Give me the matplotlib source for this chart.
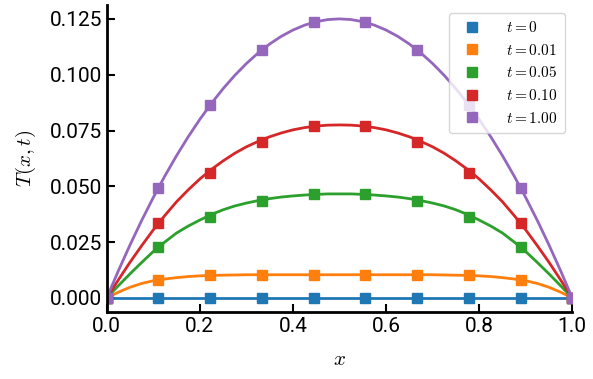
import numpy as np
import matplotlib.pyplot as plt

plt.rcParams['mathtext.fontset'] = 'cm'
plt.rcParams['font.family'] = ['Roboto', 'DejaVu Sans']

# times shown in the legend
labels = [r'$t=0$', r'$t=0.01$', r'$t=0.05$', r'$t=0.10$', r'$t=1.00$']
colors = ['#1f77b4', '#ff7f0e', '#2ca02c', '#d62728', '#9467bd']

# marker positions and values (x = k/9)
x_pts = [0, 1/9, 2/9, 3/9, 4/9, 5/9, 6/9, 7/9, 8/9, 1]
T0_pts = [0, 0, 0, 0, 0, 0, 0, 0, 0, 0]
T1_pts = [0, 0.0081, 0.0101, 0.0104, 0.0104, 0.0104, 0.0104, 0.0101, 0.0081, 0]
T2_pts = [0, 0.0229, 0.0362, 0.0435, 0.0464, 0.0464, 0.0435, 0.0362, 0.0229, 0]
T3_pts = [0, 0.0334, 0.0560, 0.0700, 0.0768, 0.0768, 0.0700, 0.0560, 0.0334, 0]
T4_pts = [0, 0.0494, 0.0864, 0.1111, 0.1235, 0.1235, 0.1111, 0.0864, 0.0494, 0]

x_line = [0, 0.025, 0.05, 0.075, 0.1, 0.125, 0.15, 0.175, 0.2, 0.225,
          0.25, 0.275, 0.3, 0.325, 0.35, 0.375, 0.4, 0.425, 0.45, 0.475,
          0.5, 0.525, 0.55, 0.575, 0.6, 0.625, 0.65, 0.675, 0.7, 0.725,
          0.75, 0.775, 0.8, 0.825, 0.85, 0.875, 0.9, 0.925, 0.95, 0.975, 1]
T0_line = [0] * 41
T1_line = [0, 0.0026, 0.0048, 0.0065, 0.0077, 0.0085, 0.0091, 0.0096, 0.0099, 0.0101,
           0.0102, 0.0103, 0.0104, 0.0104, 0.0104, 0.0104, 0.0104, 0.0104, 0.0104, 0.0104,
           0.0104, 0.0104, 0.0104, 0.0104, 0.0104, 0.0104, 0.0104, 0.0104, 0.0104, 0.0103,
           0.0102, 0.0101, 0.0099, 0.0096, 0.0091, 0.0085, 0.0077, 0.0065, 0.0048, 0.0026, 0]
T2_line = [0, 0.0055, 0.0108, 0.0159, 0.0208, 0.0251, 0.0291, 0.0322, 0.0349, 0.0374,
           0.0395, 0.0412, 0.0425, 0.0436, 0.0445, 0.0452, 0.0457, 0.0461, 0.0464, 0.0466,
           0.0466, 0.0466, 0.0464, 0.0461, 0.0457, 0.0452, 0.0445, 0.0436, 0.0425, 0.0412,
           0.0395, 0.0374, 0.0349, 0.0322, 0.0291, 0.0251, 0.0208, 0.0159, 0.0108, 0.0055, 0]
T3_line = [0, 0.0081, 0.0160, 0.0234, 0.0305, 0.0370, 0.0431, 0.0484, 0.0533, 0.0576,
           0.0614, 0.0648, 0.0677, 0.0701, 0.0722, 0.0739, 0.0753, 0.0763, 0.0770, 0.0774,
           0.0775, 0.0774, 0.0770, 0.0763, 0.0753, 0.0739, 0.0722, 0.0701, 0.0677, 0.0648,
           0.0614, 0.0576, 0.0533, 0.0484, 0.0431, 0.0370, 0.0305, 0.0234, 0.0160, 0.0081, 0]
T4_line = [0, 0.01219, 0.02375, 0.03469, 0.045, 0.05469, 0.06375, 0.07219, 0.08, 0.08719,
           0.09375, 0.09969, 0.105, 0.10969, 0.11375, 0.11719, 0.12, 0.12219, 0.12375, 0.12469,
           0.125, 0.12469, 0.12375, 0.12219, 0.12, 0.11719, 0.11375, 0.10969, 0.105, 0.09969,
           0.09375, 0.08719, 0.08, 0.07219, 0.06375, 0.05469, 0.045, 0.03469, 0.02375, 0.01219, 0]

pts = [T0_pts, T1_pts, T2_pts, T3_pts, T4_pts]
lines = [T0_line, T1_line, T2_line, T3_line, T4_line]

fig = plt.figure(figsize=(5.93, 3.79), dpi=100)
ax = fig.add_axes([0.180, 0.177, 0.785, 0.810])

for lab, c, p, l in zip(labels, colors, pts, lines):
    ax.plot(x_line, l, color=c, lw=2)
    ax.plot(x_pts, p, 's', color=c, ms=6.5, label=lab)

ax.set_xlim(0, 1)
ax.set_ylim(-0.00625, 0.13125)
ax.set_yticks([0, 0.025, 0.05, 0.075, 0.1, 0.125])
ax.set_xlabel(r'$x$', fontsize=15, labelpad=10)
ax.set_ylabel(r'$T(x,t)$', fontsize=15, labelpad=8)
ax.tick_params(direction='in', labelsize=15, length=6, width=1.5)
ax.spines['top'].set_visible(False)
ax.spines['right'].set_visible(False)
ax.spines['left'].set_linewidth(2)
ax.spines['bottom'].set_linewidth(2)
ax.legend(loc='upper right', fontsize=11, handletextpad=1.2, borderpad=0.5)

fig.savefig('out.png', dpi=100)
